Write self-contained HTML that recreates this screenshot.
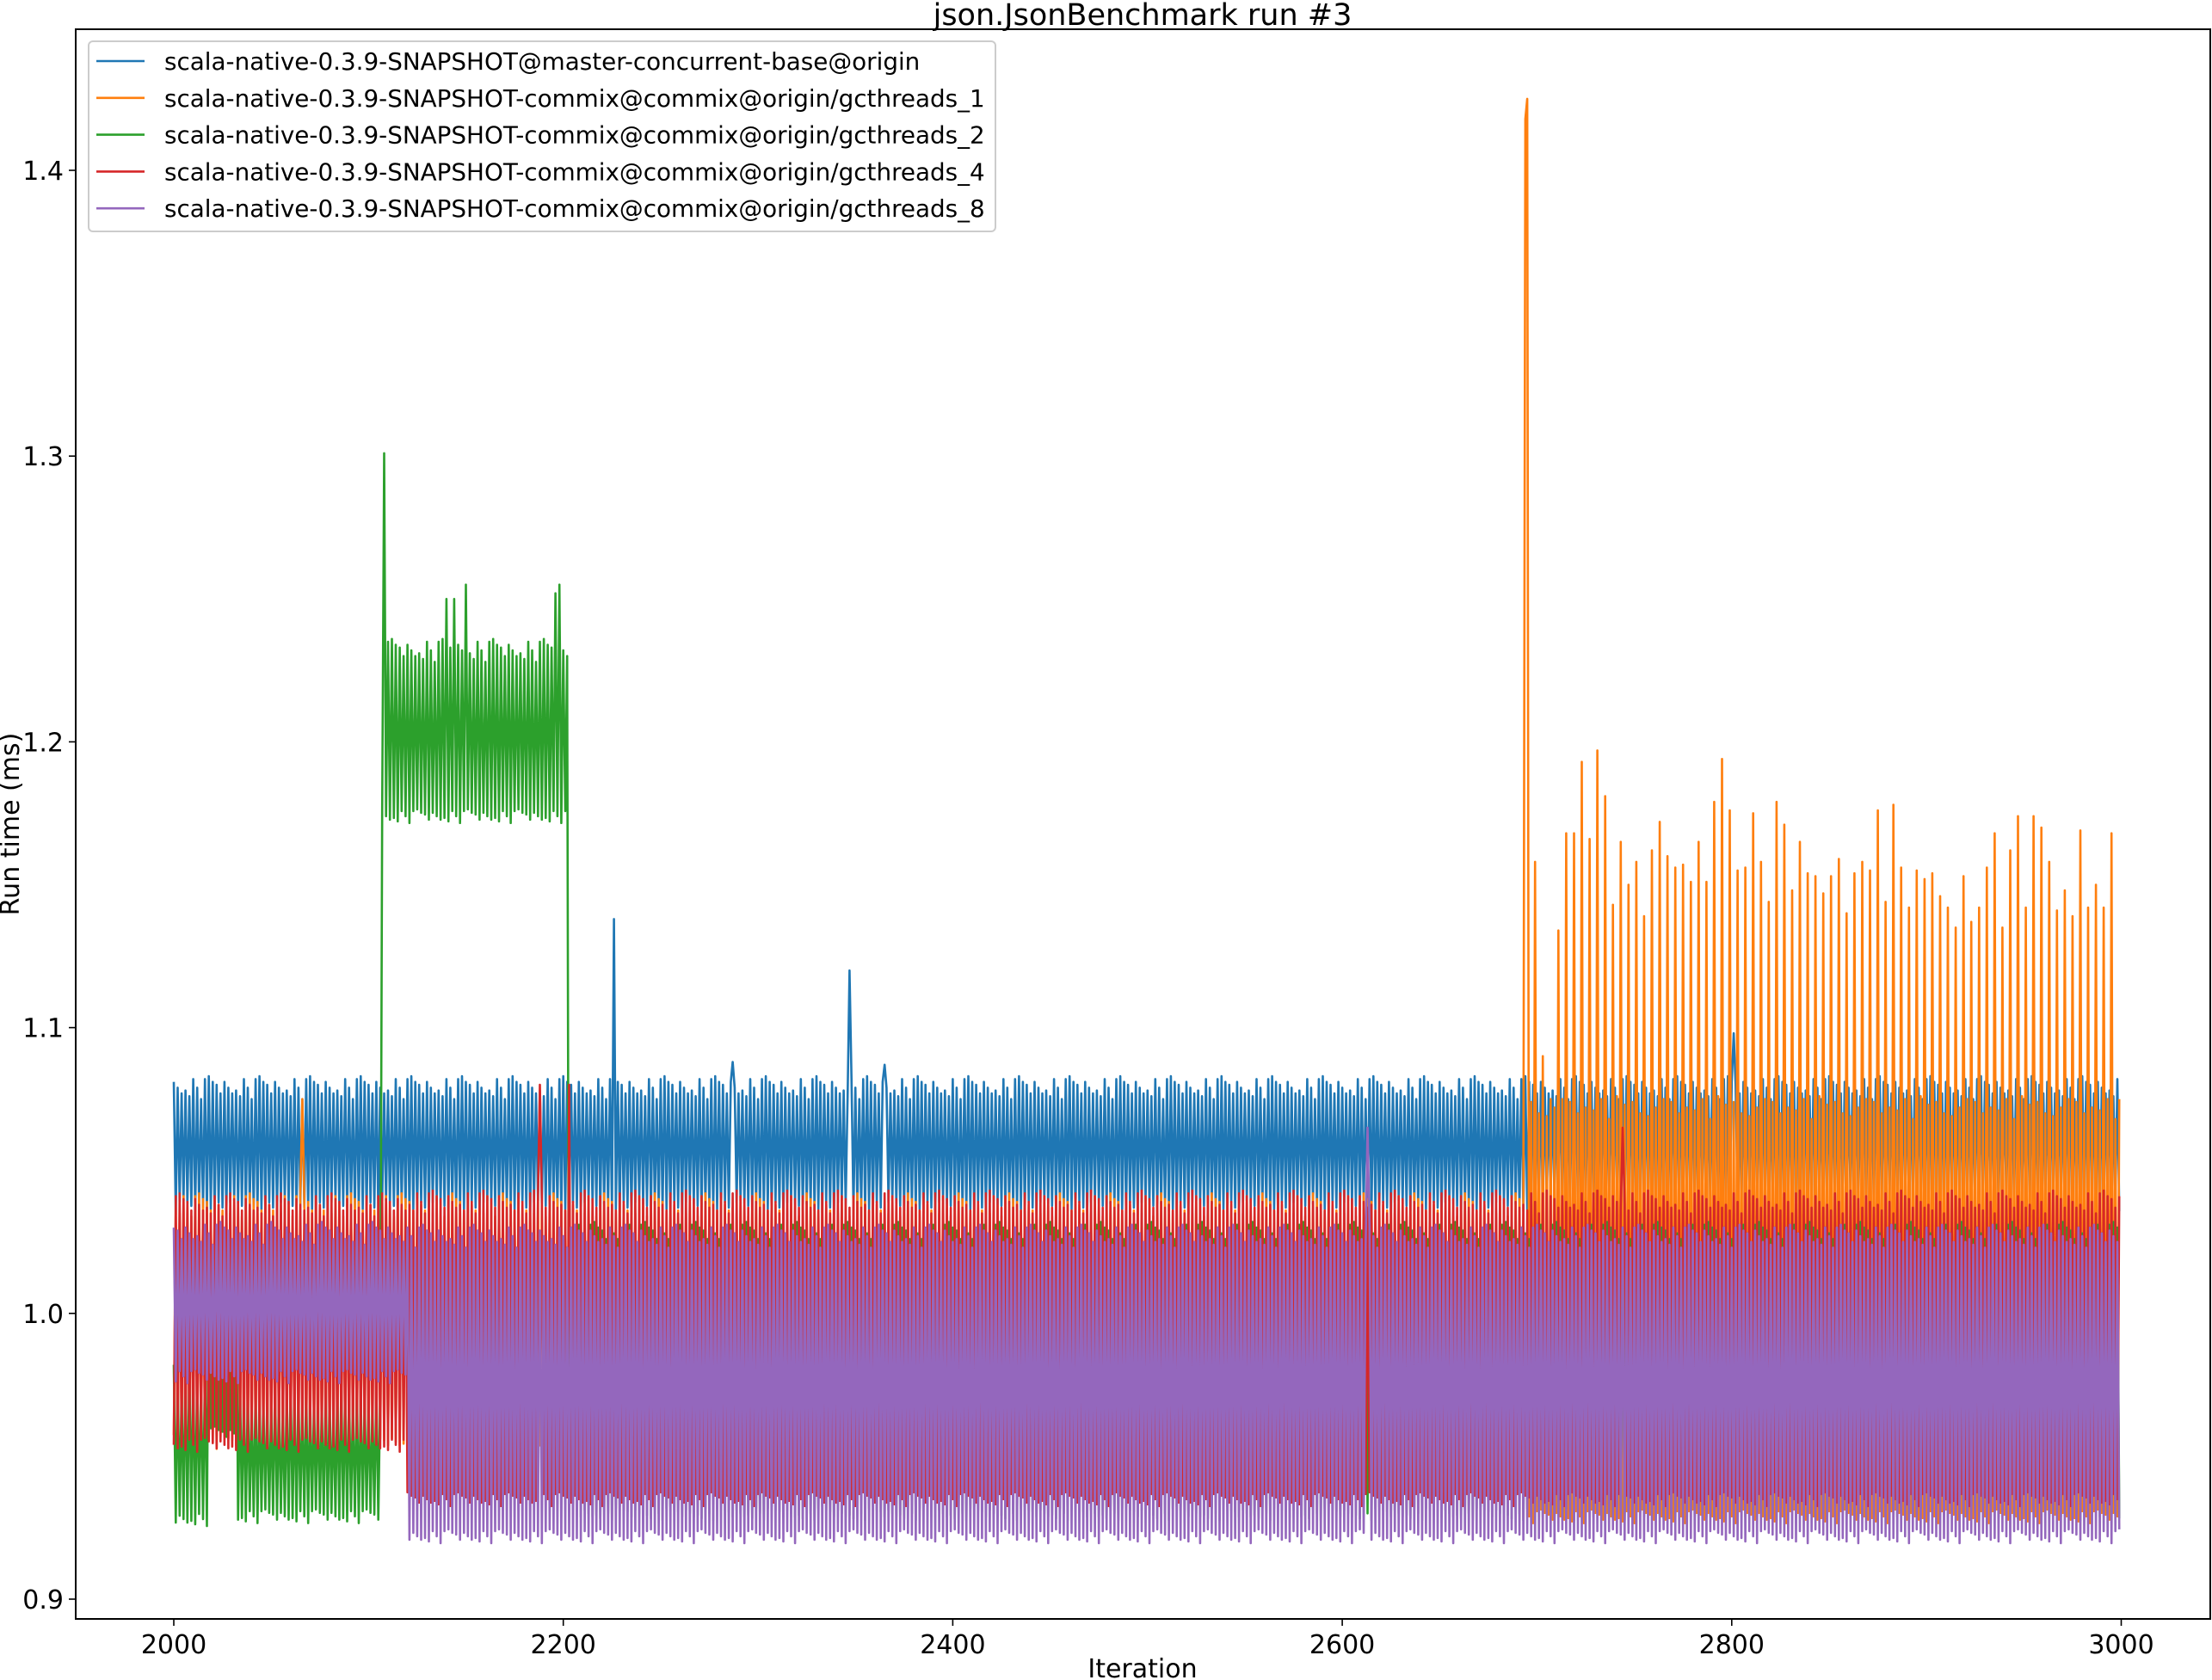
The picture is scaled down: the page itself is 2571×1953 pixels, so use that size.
<!DOCTYPE html>
<html><head><meta charset="utf-8"><title>json.JsonBenchmark run #3</title>
<style>html,body{margin:0;padding:0;background:#fff}svg{display:block;font-family:"DejaVu Sans","Liberation Sans",sans-serif}</style>
</head><body>
<svg id="chart" width="2571" height="1953" viewBox="0 0 2571 1953" xmlns="http://www.w3.org/2000/svg">
<rect width="2571" height="1953" fill="#fff"/>
<text x="1328" y="29" font-size="35" text-anchor="middle">json.JsonBenchmark run #3</text>
<g id="plot"></g>
<rect x="88" y="34" width="2481" height="1848" fill="none" stroke="#000" stroke-width="2"/>
<g id="xticks"></g>
<g id="yticks"></g>
<text x="1328" y="1950" font-size="30" text-anchor="middle">Iteration</text>
<text transform="translate(22,958) rotate(-90)" font-size="30" text-anchor="middle">Run time (ms)</text>
<g id="legend">
<rect x="103" y="48" width="1054" height="221" rx="5" fill="#fff" fill-opacity="0.85" stroke="#ccc" stroke-width="2"/>
</g>
</svg>
<script>
const seriesNames=["scala-native-0.3.9-SNAPSHOT@master-concurrent-base@origin","scala-native-0.3.9-SNAPSHOT-commix@commix@origin/gcthreads_1","scala-native-0.3.9-SNAPSHOT-commix@commix@origin/gcthreads_2","scala-native-0.3.9-SNAPSHOT-commix@commix@origin/gcthreads_4","scala-native-0.3.9-SNAPSHOT-commix@commix@origin/gcthreads_8"];
const seriesColors=["#1f77b4","#ff7f0e","#2ca02c","#d62728","#9467bd"];
const xTicks=[2000,2200,2400,2600,2800,3000];
const yTicks=[0.9,1.0,1.1,1.2,1.3,1.4];
const yTickLabels=["0.9","1.0","1.1","1.2","1.3","1.4"];
const iterStart=2000, iterEnd=2999;
// segments per series: [start, end, high, low]
const blueSegs=[[2000,2999,1.079,1.037]];
const orangeSegs=[[2000,2695,1.038,0.955],[2696,2999,1.072,0.929]];
const greenSegs=[[2000,2017,0.979,0.928],[2018,2032,1.025,0.958],[2033,2106,0.972,0.929],[2107,2202,1.232,1.174],[2203,2999,1.028,0.93]];
const redSegs=[[2000,2119,1.038,0.954],[2120,2999,1.039,0.935]];
const purpleSegs=[[2000,2119,1.028,0.978],[2120,2999,1.027,0.922]];
// spikes per series: [iteration, value]
const blueSpikes=[[2226,1.138],[2347,1.12],[2801,1.098],[2287,1.088],[2365,1.087]];
const orangeSpikes=[[2066,1.075],[2694,1.418],[2695,1.425],[2699,1.158],[2703,1.09]];
const greenSpikes=[[2108,1.301],[2150,1.255],[2198,1.255],[2196,1.252],[2140,1.25],[2144,1.25]];
const redSpikes=[[2188,1.08],[2203,1.08],[2744,1.065]];
const purpleSpikes=[[2613,1.065]];
// orange large periodic peaks starting at 2711, every 4 iterations
const orangePeakStart=2711;
const orangePeaks=[1.134,1.168,1.168,1.193,1.166,1.197,1.181,1.143,1.165,1.150,1.158,1.139,1.162,1.172,1.160,1.156,1.157,1.151,1.165,1.151,1.179,1.194,1.176,1.155,1.156,1.175,1.158,1.144,1.179,1.171,1.148,1.165,1.154,1.153,1.147,1.153,1.159,1.140,1.154,1.158,1.155,1.176,1.144,1.178,1.156,1.142,1.155,1.152,1.154,1.146,1.142,1.135,1.153,1.137,1.142,1.156,1.168,1.135,1.162,1.174,1.142,1.174,1.170,1.158,1.141,1.148,1.139,1.169,1.142,1.150,1.142,1.168];
const jitter=[0,0.003,-0.002,0.004,-0.001,0.002,-0.003,0.001,0.003,-0.002,0,0.002,-0.004];
const seriesSegs=[blueSegs,orangeSegs,greenSegs,redSegs,purpleSegs];
const seriesSpikes=[blueSpikes,orangeSpikes,greenSpikes,redSpikes,purpleSpikes];
const seriesPhase=[0,1,0,1,0];

const X0=202, XS=2.2635, Y0=1859, YS=3322;
function xScale(i){return X0+(i-2000)*XS;}
function yScale(v){return Y0-(v-0.9)*YS;}
const NS="http://www.w3.org/2000/svg";

function valueAt(s,i){
  const sp=seriesSpikes[s].find(p=>p[0]===i);
  if(sp) return sp[1];
  if(s===1 && i>=orangePeakStart && (i-orangePeakStart)%4===0){
    const k=(i-orangePeakStart)/4;
    if(k<orangePeaks.length) return orangePeaks[k];
  }
  const seg=seriesSegs[s].find(g=>i>=g[0]&&i<=g[1]);
  const j=jitter[(i+s*5)%jitter.length];
  const hi=((i+seriesPhase[s])%2===0);
  return hi?seg[2]+j:seg[3]+j*0.6;
}

const plot=document.getElementById('plot');
for(let s=0;s<seriesNames.length;s++){
  const pts=[];
  for(let i=iterStart;i<=iterEnd;i++){
    pts.push(xScale(i).toFixed(1)+","+yScale(valueAt(s,i)).toFixed(1));
  }
  const pl=document.createElementNS(NS,'polyline');
  pl.setAttribute('points',pts.join(' '));
  pl.setAttribute('fill','none');
  pl.setAttribute('stroke',seriesColors[s]);
  pl.setAttribute('stroke-width','2.6');
  pl.setAttribute('stroke-linejoin','round');
  
  
  plot.appendChild(pl);
}

const xg=document.getElementById('xticks');
xTicks.forEach(t=>{
  const x=xScale(t);
  const l=document.createElementNS(NS,'line');
  l.setAttribute('x1',x);l.setAttribute('x2',x);l.setAttribute('y1',1882);l.setAttribute('y2',1890);
  l.setAttribute('stroke','#000');l.setAttribute('stroke-width','1.6');
  
  
  xg.appendChild(l);
  const tx=document.createElementNS(NS,'text');
  tx.setAttribute('x',x);tx.setAttribute('y',1922);tx.setAttribute('font-size','30');tx.setAttribute('text-anchor','middle');
  tx.textContent=String(t);
  
  
  xg.appendChild(tx);
});
const yg=document.getElementById('yticks');
yTicks.forEach((t,k)=>{
  const y=yScale(t);
  const l=document.createElementNS(NS,'line');
  l.setAttribute('x1',80);l.setAttribute('x2',88);l.setAttribute('y1',y);l.setAttribute('y2',y);
  l.setAttribute('stroke','#000');l.setAttribute('stroke-width','1.6');
  
  
  yg.appendChild(l);
  const tx=document.createElementNS(NS,'text');
  tx.setAttribute('x',74);tx.setAttribute('y',y+11);tx.setAttribute('font-size','30');tx.setAttribute('text-anchor','end');
  tx.textContent=yTickLabels[k];
  
  
  yg.appendChild(tx);
});
const lg=document.getElementById('legend');
seriesNames.forEach((n,k)=>{
  const y=71+k*42.8;
  const l=document.createElementNS(NS,'line');
  l.setAttribute('x1',112);l.setAttribute('x2',168);l.setAttribute('y1',y);l.setAttribute('y2',y);
  l.setAttribute('stroke',seriesColors[k]);l.setAttribute('stroke-width','2.6');
  
  
  lg.appendChild(l);
  const tx=document.createElementNS(NS,'text');
  tx.setAttribute('x',191);tx.setAttribute('y',y+10);tx.setAttribute('font-size','27.8');
  tx.textContent=n;
  
  
  lg.appendChild(tx);
});
</script>
</body></html>
